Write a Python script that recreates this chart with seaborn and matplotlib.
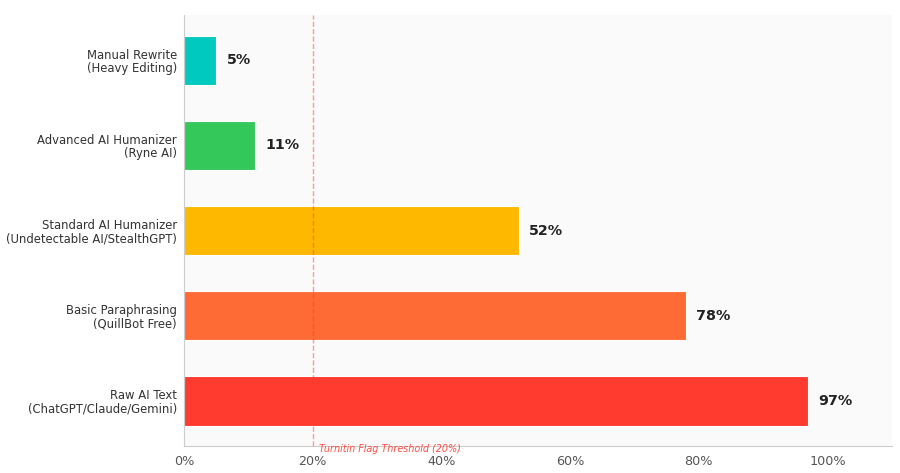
import pandas as pd
import matplotlib.pyplot as plt
import seaborn as sns

# Detection rates
methods = [
    "Manual Rewrite\n(Heavy Editing)",
    "Advanced AI Humanizer\n(Ryne AI)",
    "Standard AI Humanizer\n(Undetectable AI/StealthGPT)",
    "Basic Paraphrasing\n(QuillBot Free)",
    "Raw AI Text\n(ChatGPT/Claude/Gemini)",
]
detection = [5, 11, 52, 78, 97]
colors = ["#00c9c0", "#34c759", "#ffb800", "#ff6b35", "#ff3b30"]
threshold = 20
threshold_label = "Turnitin Flag Threshold (20%)"

df = pd.DataFrame({"Method": methods, "Detection": detection})

sns.set_style("white")
plt.rcParams['font.family'] = ['DejaVu Sans']

fig, ax = plt.subplots(figsize=(9, 4.73), dpi=100)
ax.set_facecolor("#fafafa")

sns.barplot(data=df, x="Detection", y="Method", hue="Method", palette=colors,
            legend=False, width=0.58, saturation=1, edgecolor="white",
            linewidth=0.8, ax=ax)

for i, v in enumerate(detection):
    ax.text(v + 1.6, i, f"{v}%", va="center", ha="left",
            fontsize=10.3, fontweight="bold", color="#222222")

ax.axvline(threshold, color="#ff3b30", linestyle="--", linewidth=1, alpha=0.5)
ax.text(threshold + 0.9, 4.57, threshold_label, color="#ff3b30", fontsize=6.9,
        style="italic", va="center", ha="left", alpha=0.9, clip_on=False)

ax.set_xlim(0, 110)
ax.set_ylim(4.53, -0.53)
ax.set_xticks([0, 20, 40, 60, 80, 100])
ax.set_xticklabels([f"{t}%" for t in [0, 20, 40, 60, 80, 100]])
ax.set_xlabel("")
ax.set_ylabel("")
ax.tick_params(axis="x", colors="#777777", labelcolor="#555555", labelsize=9.2, length=3)
ax.tick_params(axis="y", labelsize=8.4, length=3, pad=2, colors="#777777", labelcolor="#333333")
for lbl in ax.get_yticklabels():
    lbl.set_linespacing(1.0)

for side in ["top", "right"]:
    ax.spines[side].set_visible(False)
for side in ["left", "bottom"]:
    ax.spines[side].set_color("#cccccc")

plt.subplots_adjust(left=0.2045, right=0.991, top=0.968, bottom=0.057)
plt.savefig("out.png", dpi=100)
